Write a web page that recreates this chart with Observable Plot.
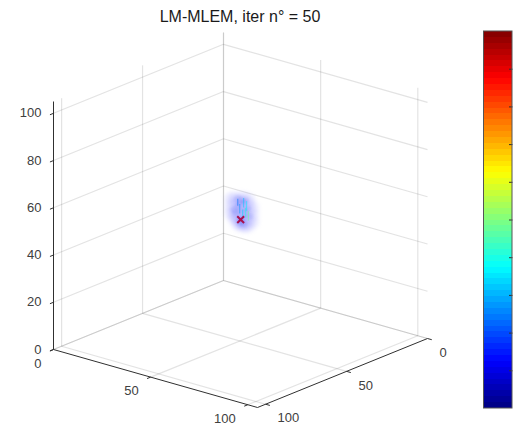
<!DOCTYPE html>
<html><head><meta charset="utf-8">
<script src="https://cdn.jsdelivr.net/npm/d3@7"></script>
<script src="https://cdn.jsdelivr.net/npm/@observablehq/plot@0.6"></script>
<style>
html,body{margin:0;padding:0;background:#fff;overflow:hidden}
#t{font:16px "Liberation Sans",Arial,sans-serif;height:30px;line-height:34px;width:480px;text-align:center;color:#1a1a1a;white-space:nowrap;position:relative;z-index:1}
svg{display:block}
</style></head><body>
<div id="t">LM-MLEM, iter n° = 50</div>
<div id="c"></div>
<script>
const axisMax = 105, zMax = 105;
const xyTicks = [0, 50, 100];
const zTicks = [0, 20, 40, 60, 80, 100];

// Reconstructed activity, outer haze: voxels (x, z) at y = 50
const blobX = [45,45,45, 47,47,47,47,47, 49,49,49,49,49,49, 51,51,51,51,51,51, 53,53,53,53,53,53, 55,55,55,55,55, 57,57,57];
const blobZ = [53,56,59, 51,54,57,60,52, 49,52,55,58,60,50, 49,52,55,58,61,50, 49,52,55,58,61,50, 50,53,56,59,61, 52,55,58];

// Denser core voxels
const coreX = [48,49,50,50,50,51,52,52,52,53,54,49,51,53,47,55,50,52];
const coreZ = [54,57,52,55,58,51,53,56,59,55,57,60,60,60,55,54,50,50];

// Brighter voxel columns: x, z from, z to, level
const hotX = [50, 51.5, 52, 53, 53.5, 54.5, 49];
const hotZ1 = [54, 52, 57, 53, 56, 52, 57];
const hotZ2 = [58, 56, 61, 57, 60, 56, 60];
const hotLevel = [0.28, 0.34, 0.32, 0.4, 0.36, 0.48, 0.24];

// True source
const srcX = [50.5], srcZ = [51.5];

// jet colormap anchors
const jetStops = [0, 0.125, 0.375, 0.625, 0.875, 1];
const jetColors = ["#000080", "#0000ff", "#00ffff", "#ffff00", "#ff0000", "#800000"];
const barTicks = [0.1,0.2,0.3,0.4,0.5,0.6,0.7,0.8,0.9];
const barLevels = d3.range(64);

// View: screen position of a data point
const px = (x, y) => 223 + x * 204 / 105 - y * 170 / 105;
const py = (x, y, z) => 280 + x * 58 / 105 + y * 69 / 105 - z * 248 / 105;
const barY = v => 408 - v * 377;
const barL = 483.5, barR = 512;

const seg = (a, b) => ({x1: px(a[0], a[1]), y1: py(...a), x2: px(b[0], b[1]), y2: py(...b)});
const grid = [];
for (const t of xyTicks) {
  grid.push(seg([t,0,0],[t,0,zMax]));
  grid.push(seg([0,t,0],[0,t,zMax]));
  grid.push(seg([t,0,0],[t,axisMax,0]));
  grid.push(seg([0,t,0],[axisMax,t,0]));
}
for (const z of zTicks) {
  grid.push(seg([0,0,z],[axisMax,0,z]));
  grid.push(seg([0,0,z],[0,axisMax,z]));
}
const axes = [
  seg([0,axisMax,0],[axisMax,axisMax,0]),
  seg([axisMax,axisMax,0],[axisMax,0,0]),
  seg([0,axisMax,0],[0,axisMax,zMax]),
];
const ticks = [];
for (const t of xyTicks) {
  ticks.push(seg([t,axisMax,0],[t,axisMax+2.2,0]));
  ticks.push(seg([axisMax,t,0],[axisMax+2.2,t,0]));
}
for (const z of zTicks) ticks.push(seg([0,axisMax,z],[0,axisMax+2.2,z]));

const font = "Liberation Sans, Arial, sans-serif";
const ink = "#404040";
const blob = blobX.map((x, i) => ({x: px(x, 50), y: py(x, 50, blobZ[i])}));
const core = coreX.map((x, i) => ({x: px(x, 50), y: py(x, 50, coreZ[i])}));
const hot = hotX.map((x, i) => ({...seg([x,50,hotZ1[i]],[x,50,hotZ2[i]]), v: hotLevel[i]}));
const src = srcX.map((x, i) => ({x: px(x, 50), y: py(x, 50, srcZ[i])}));

const chart = Plot.plot({
  width: 513, height: 395, margin: 0,
  x: {domain: [0, 513], range: [0, 513], axis: null},
  y: {domain: [30, 425], range: [0, 395], axis: null},
  color: {type: "linear", domain: jetStops, range: jetColors, legend: false},
  style: {fontFamily: font, background: "#fff"},
  marks: [
    Plot.link(grid, {x1: "x1", y1: "y1", x2: "x2", y2: "y2", stroke: "#262626", strokeOpacity: 0.13, strokeWidth: 1.2, imageFilter: "blur(0.35px)"}),
    Plot.dot(blob, {x: "x", y: "y", r: 6, fill: "#7878ff", fillOpacity: 0.13, imageFilter: "blur(2px)"}),
    Plot.dot(core, {x: "x", y: "y", r: 3.5, fill: "#4a60f0", fillOpacity: 0.13, imageFilter: "blur(1.2px)"}),
    Plot.link(hot, {x1: "x1", y1: "y1", x2: "x2", y2: "y2", stroke: "v", strokeWidth: 1.2, strokeOpacity: 0.5, imageFilter: "blur(0.5px)"}),
    Plot.dot(src, {x: "x", y: "y", r: 3.2, symbol: "times", stroke: "#a8104e", strokeWidth: 2}),
    Plot.link(axes, {x1: "x1", y1: "y1", x2: "x2", y2: "y2", stroke: "#303030", strokeWidth: 1}),
    Plot.link(ticks, {x1: "x1", y1: "y1", x2: "x2", y2: "y2", stroke: "#303030", strokeWidth: 1}),
    Plot.text(zTicks, {x: () => px(0, axisMax), y: z => py(0, axisMax, z), text: d => String(d), textAnchor: "end", dx: -12, fontSize: 13, fill: ink}),
    Plot.text(xyTicks, {x: t => px(t, axisMax), y: t => py(t, axisMax, 0), text: d => String(d), textAnchor: "end", dx: -12, dy: 14, fontSize: 13, fill: ink}),
    Plot.text(xyTicks, {x: t => px(axisMax, t), y: t => py(axisMax, t, 0), text: d => String(d), textAnchor: "start", dx: 12, dy: 14, fontSize: 13, fill: ink}),
    Plot.rect(barLevels, {x1: () => barL, x2: () => barR, y1: d => barY(d / 64), y2: d => barY((d + 1) / 64), fill: d => (d + 0.5) / 64, shapeRendering: "crispEdges"}),
    Plot.link(barTicks, {x1: () => barR - 3.5, x2: () => barR, y1: v => barY(v), y2: v => barY(v), stroke: "#303030"}),
    Plot.rect([0], {x1: () => barL, x2: () => barR, y1: () => barY(0), y2: () => barY(1), fill: "none", stroke: "#555", strokeWidth: 1}),
  ]
});
document.getElementById("c").appendChild(chart);
</script>
</body></html>
